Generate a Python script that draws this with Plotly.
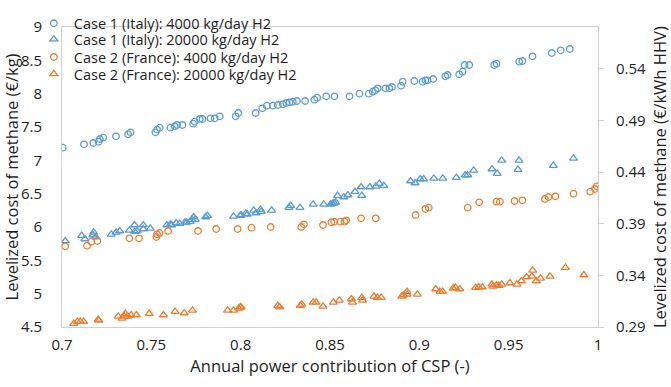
import plotly.graph_objects as go

# Case 1 (Italy): 4000 kg/day H2
c1_4000_x = [0.7004, 0.7123, 0.7175, 0.7205, 0.7212, 0.7230, 0.7302, 0.7370, 0.7384, 0.7523,
             0.7532, 0.7547, 0.7607, 0.7631, 0.7644, 0.7674, 0.7734, 0.7743, 0.7771, 0.7786,
             0.7831, 0.7855, 0.7883, 0.7972, 0.7987, 0.8084, 0.8121, 0.8147, 0.8180, 0.8208,
             0.8236, 0.8255, 0.8274, 0.8292, 0.8315, 0.8361, 0.8413, 0.8428, 0.8479, 0.8525,
             0.8609, 0.8665, 0.8717, 0.8739, 0.8754, 0.8767, 0.8810, 0.8832, 0.8847, 0.8898,
             0.8907, 0.8972, 0.9018, 0.9034, 0.9046, 0.9078, 0.9145, 0.9158, 0.9223, 0.9242,
             0.9253, 0.9279, 0.9419, 0.9432, 0.9559, 0.9577, 0.9633, 0.9741, 0.9791, 0.9842]
c1_4000_y = [7.19, 7.24, 7.26, 7.28, 7.32, 7.34, 7.36, 7.39, 7.42, 7.42,
             7.46, 7.49, 7.49, 7.51, 7.53, 7.53, 7.55, 7.58, 7.62, 7.62,
             7.63, 7.63, 7.66, 7.66, 7.71, 7.71, 7.78, 7.82, 7.82, 7.83,
             7.84, 7.86, 7.87, 7.88, 7.89, 7.89, 7.91, 7.94, 7.96, 7.96,
             7.96, 8.00, 8.00, 8.03, 8.05, 8.08, 8.08, 8.08, 8.10, 8.12,
             8.18, 8.19, 8.18, 8.20, 8.20, 8.22, 8.26, 8.28, 8.29, 8.33,
             8.43, 8.43, 8.43, 8.45, 8.48, 8.49, 8.56, 8.61, 8.65, 8.67]

# Case 1 (Italy): 20000 kg/day H2
c1_20000_x = [0.7018, 0.7110, 0.7128, 0.7177, 0.7173, 0.7189, 0.7276, 0.7303, 0.7323, 0.7377,
              0.7406, 0.7406, 0.7420, 0.7455, 0.7455, 0.7494, 0.7587, 0.7606, 0.7614, 0.7639,
              0.7659, 0.7688, 0.7698, 0.7717, 0.7727, 0.7737, 0.7746, 0.7804, 0.7814, 0.7960,
              0.7998, 0.8002, 0.8028, 0.8037, 0.8073, 0.8086, 0.8111, 0.8115, 0.8173, 0.8270,
              0.8280, 0.8332, 0.8406, 0.8465, 0.8503, 0.8513, 0.8523, 0.8532, 0.8542, 0.8577,
              0.8600, 0.8640, 0.8674, 0.8678, 0.8723, 0.8756, 0.8776, 0.8801, 0.8951, 0.8976,
              0.9005, 0.9024, 0.9081, 0.9131, 0.9207, 0.9257, 0.9271, 0.9304, 0.9407, 0.9436,
              0.9461, 0.9552, 0.9558, 0.9750, 0.9863]
c1_20000_y = [5.79, 5.87, 5.82, 5.92, 5.88, 5.85, 5.89, 5.92, 5.94, 5.95,
              6.03, 5.93, 5.94, 6.03, 5.97, 5.98, 6.03, 6.04, 6.03, 6.06,
              6.05, 6.07, 6.07, 6.08, 6.11, 6.15, 6.11, 6.15, 6.17, 6.16,
              6.17, 6.18, 6.20, 6.19, 6.25, 6.21, 6.26, 6.23, 6.25, 6.29,
              6.32, 6.29, 6.34, 6.34, 6.34, 6.35, 6.36, 6.37, 6.47, 6.45,
              6.48, 6.53, 6.60, 6.47, 6.60, 6.61, 6.65, 6.62, 6.69, 6.66,
              6.72, 6.72, 6.73, 6.73, 6.74, 6.78, 6.78, 6.85, 6.87, 6.80,
              7.00, 6.86, 7.00, 6.92, 7.03]

# Case 2 (France): 4000 kg/day H2
c2_4000_x = [0.7018, 0.7140, 0.7164, 0.7198, 0.7377, 0.7431, 0.7528, 0.7532, 0.7546, 0.7594,
             0.7761, 0.7863, 0.7983, 0.8061, 0.8168, 0.8339, 0.8354, 0.8461, 0.8508, 0.8523,
             0.8558, 0.8581, 0.8591, 0.8674, 0.8756, 0.8979, 0.9034, 0.9053, 0.9271, 0.9335,
             0.9432, 0.9451, 0.9533, 0.9577, 0.9703, 0.9723, 0.9762, 0.9863, 0.9956, 0.9983,
             0.9993]
c2_4000_y = [5.71, 5.72, 5.78, 5.79, 5.83, 5.83, 5.85, 5.89, 5.91, 5.94,
             5.94, 5.97, 5.97, 5.99, 6.00, 6.00, 6.04, 6.03, 6.07, 6.08,
             6.08, 6.08, 6.10, 6.13, 6.13, 6.18, 6.27, 6.29, 6.29, 6.37,
             6.38, 6.38, 6.39, 6.40, 6.42, 6.45, 6.46, 6.50, 6.53, 6.57,
             6.61]

# Case 2 (France): 20000 kg/day H2
c2_20000_x = [0.7066, 0.7086, 0.7102, 0.7121, 0.7202, 0.7206, 0.7315, 0.7335, 0.7348, 0.7354,
              0.7368, 0.7387, 0.7416, 0.7488, 0.7568, 0.7633, 0.7684, 0.7730, 0.7927, 0.7960,
              0.7989, 0.7998, 0.8002, 0.8208, 0.8218, 0.8334, 0.8342, 0.8406, 0.8422, 0.8461,
              0.8519, 0.8552, 0.8620, 0.8626, 0.8678, 0.8682, 0.8746, 0.8765, 0.8787, 0.8902,
              0.8911, 0.8931, 0.8932, 0.8989, 0.9092, 0.9115, 0.9131, 0.9189, 0.9202, 0.9226,
              0.9315, 0.9332, 0.9352, 0.9406, 0.9412, 0.9432, 0.9445, 0.9461, 0.9507, 0.9546,
              0.9571, 0.9600, 0.9630, 0.9634, 0.9655, 0.9678, 0.9731, 0.9818, 0.9921]
c2_20000_y = [4.55, 4.58, 4.58, 4.58, 4.61, 4.60, 4.66, 4.63, 4.66, 4.70,
              4.66, 4.68, 4.68, 4.70, 4.68, 4.73, 4.71, 4.75, 4.75, 4.75,
              4.78, 4.80, 4.80, 4.82, 4.80, 4.82, 4.84, 4.87, 4.87, 4.81,
              4.87, 4.90, 4.92, 4.87, 4.94, 4.90, 4.96, 4.94, 4.94, 4.96,
              4.98, 5.03, 4.99, 4.99, 5.07, 5.03, 5.03, 5.08, 5.09, 5.07,
              5.09, 5.10, 5.10, 5.14, 5.11, 5.13, 5.12, 5.14, 5.16, 5.14,
              5.19, 5.25, 5.26, 5.35, 5.19, 5.23, 5.26, 5.39, 5.28]

names = ["Case 1 (Italy): 4000 kg/day H2", "Case 1 (Italy): 20000 kg/day H2",
         "Case 2 (France): 4000 kg/day H2", "Case 2 (France): 20000 kg/day H2"]

x_ticks = [0.7, 0.75, 0.8, 0.85, 0.9, 0.95, 1]
y_ticks = [4.5, 5, 5.5, 6, 6.5, 7, 7.5, 8, 8.5, 9]
y2_ticks = [0.29, 0.34, 0.39, 0.44, 0.49, 0.54]

BLUE = "#5B9BD5"
ORANGE = "#ED7D31"
FONT = "Open Sans"
TXT = "#1e1e1e"
FRAME = "#d0d0d0"
TITLE_SIZE = 16.5

fig = go.Figure()
series = [
    (c1_4000_x, c1_4000_y, "circle-open", BLUE, 6.5),
    (c1_20000_x, c1_20000_y, "triangle-up-open", BLUE, 7),
    (c2_4000_x, c2_4000_y, "circle-open", ORANGE, 6.5),
    (c2_20000_x, c2_20000_y, "triangle-up-open", ORANGE, 7),
]
legend_ids = ["legend", "legend2", "legend3", "legend4"]
for (xs, ys, sym, col, sz), nm, lg in zip(series, names, legend_ids):
    fig.add_trace(go.Scatter(x=xs, y=ys, mode="markers", name=nm, legend=lg,
                             marker=dict(symbol=sym, size=sz, color=col,
                                         line=dict(color=col, width=1.3))))

# invisible trace to activate the secondary axis
fig.add_trace(go.Scatter(x=[0.7], y=[0.29], yaxis="y2", mode="markers",
                         marker=dict(opacity=0), showlegend=False, hoverinfo="skip"))

legend_rows_px = [17, 36, 55, 73]
legend_offsets = [31, 33, 33, 33]
leg_x = -0.0525
legend_layout = {}
for lg, ypx, off in zip(legend_ids, legend_rows_px, legend_offsets):
    legend_layout[lg] = dict(x=leg_x, y=(327 - (ypx - off)) / 320, xanchor="left", yanchor="top",
                             bgcolor="rgba(0,0,0,0)", borderwidth=0,
                             font=dict(size=14.5, color=TXT, family=FONT))

fig.update_layout(
    width=671, height=387,
    margin=dict(l=62, r=73, t=7, b=60),
    paper_bgcolor="white", plot_bgcolor="white",
    font=dict(family=FONT, size=15, color=TXT),
    showlegend=True,
    xaxis=dict(range=[0.7, 1], tickvals=x_ticks, ticktext=[str(v) for v in x_ticks],
               showgrid=False, zeroline=False, showline=True, linecolor=FRAME,
               linewidth=1, mirror=True, ticks="", ticklabelstandoff=4,
               ticklabeloverflow="allow",
               tickfont=dict(size=15, color=TXT),
               title=dict(text="Annual power contribution of CSP (-)",
                          font=dict(size=TITLE_SIZE, color=TXT), standoff=6)),
    yaxis=dict(range=[4.5, 9], tickvals=y_ticks, ticktext=[str(v) for v in y_ticks],
               showgrid=False, zeroline=False, showline=True, linecolor=FRAME,
               linewidth=1, mirror=True, ticks="", ticklabelstandoff=16,
               ticklabeloverflow="allow",
               tickfont=dict(size=15, color=TXT),
               title=dict(text="Levelized cost of methane (€/kg)",
                          font=dict(size=TITLE_SIZE, color=TXT), standoff=3)),
    yaxis2=dict(range=[0.29, 0.5806], overlaying="y", side="right",
                tickvals=y2_ticks, ticktext=["%.2f" % v for v in y2_ticks],
                showgrid=False, zeroline=False, showline=False,
                ticks="outside", ticklen=5, tickcolor=FRAME, ticklabelstandoff=9,
                ticklabeloverflow="allow",
                tickfont=dict(size=15, color=TXT)),
    annotations=[dict(text="Levelized cost of methane (€/kWh HHV)", textangle=-90,
                      xref="paper", yref="paper", x=(659 - 62) / 536, y=0.5,
                      xanchor="center", yanchor="middle", showarrow=False,
                      font=dict(size=TITLE_SIZE, color=TXT, family=FONT))],
    **legend_layout,
)

fig.write_html("out.html", config={"displayModeBar": False},
               post_script="document.body.style.margin='0';")
